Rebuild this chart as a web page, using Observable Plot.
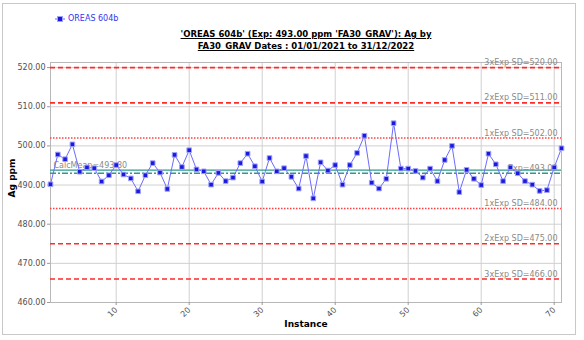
<!DOCTYPE html>
<html><head><meta charset="utf-8">
<script src="https://cdn.jsdelivr.net/npm/d3@7"></script>
<script src="https://cdn.jsdelivr.net/npm/@observablehq/plot@0.6"></script>
<style>
body{margin:0;background:#fff;}
#wrap{position:relative;width:584px;height:340px;overflow:hidden;font-family:"DejaVu Sans",sans-serif;}
#border{position:absolute;left:2px;top:3px;width:574px;height:332px;border:1px solid #c8c8c8;box-sizing:border-box;}
#title{position:absolute;left:0;width:612px;top:28px;text-align:center;font-weight:bold;font-size:8.5px;text-decoration:underline;line-height:12px;color:#000;}
#legend{position:absolute;left:55px;top:14px;font-size:8px;color:#3434f0;display:flex;align-items:center;}
#ylabel{position:absolute;left:12px;top:178px;transform:translate(-50%,-50%) rotate(-90deg);font-weight:bold;font-size:9px;color:#000;white-space:nowrap;}
#chart{position:absolute;left:0;top:50px;}
</style></head>
<body>
<div id="wrap">
<div id="border"></div>
<div id="legend"><svg width="10" height="8" style="margin-right:3px"><line x1="0" y1="4" x2="10" y2="4" stroke="#6b6bff" stroke-width="1"/><rect x="2.5" y="1.5" width="5" height="5" fill="#1a1adc" stroke="#a0a0ff" stroke-width="1"/></svg><span id="legtext"></span></div>
<div id="title"></div>
<div id="chart"></div>
<div id="ylabel"></div>
</div>
<script>
const seriesName = "OREAS 604b";
const titleLines = ["'OREAS 604b' (Exp: 493.00 ppm 'FA30_GRAV'): Ag by", "FA30_GRAV Dates : 01/01/2021 to 31/12/2022"];
const yLabel = "Ag ppm";
const xLabel = "Instance";
const agValues = [490.2,497.8,496.6,500.4,493.4,494.5,494.3,490.9,492.5,495.1,
  492.7,491.7,488.4,492.5,495.6,493.2,489.0,497.7,494.6,498.9,
  494.0,493.5,490.1,493.1,491.0,491.9,495.6,498.0,494.8,490.9,
  496.9,493.5,494.3,492.1,489.1,497.4,486.6,495.8,493.7,495.1,
  490.1,495.1,498.2,502.6,490.6,489.1,491.6,505.8,494.2,494.2,
  493.6,491.9,494.2,491.0,496.4,500.0,488.2,493.9,491.6,490.0,
  498.0,495.3,491.0,494.5,493.0,491.0,490.1,488.5,488.7,494.5,499.4];
const limitNames = ["3xExp SD","2xExp SD","1xExp SD","1xExp SD","2xExp SD","3xExp SD"];
const limitValues = [520, 511, 502, 484, 475, 466];
const limitStyle = ["dash","dash","dot","dot","dash","dash"];
const expValue = 493.00;
const calcMean = 493.80;
const yTicks = [460,470,480,490,500,510,520];
const xTicks = [10,20,30,40,50,60,70];

document.getElementById("legtext").textContent = seriesName;
document.getElementById("ylabel").textContent = yLabel;
document.getElementById("title").innerHTML = titleLines.map(t=>`<div>${t}</div>`).join("");

const data = agValues.map((v,i)=>({instance:i+1, value:v}));
const limits = limitValues.map((v,i)=>({name:limitNames[i], value:v, style:limitStyle[i]}));
const dashed = limits.filter(d=>d.style==="dash");
const dotted = limits.filter(d=>d.style==="dot");

const chart = Plot.plot({
  width:584, height:290,
  marginLeft:50, marginRight:23, marginTop:12, marginBottom:38,
  style:{fontFamily:'"DejaVu Sans",sans-serif', fontSize:"8px", background:"transparent", color:"#444"},
  x:{domain:[1,71], axis:null},
  y:{domain:[460,521.3], axis:null},
  marks:[
    Plot.gridX(xTicks,{stroke:"#d0d0d0", strokeOpacity:1}),
    Plot.gridY(yTicks,{stroke:"#d0d0d0", strokeOpacity:1}),
    Plot.frame({stroke:"#b8b8b8"}),
    Plot.axisY(yTicks,{label:null, tickSize:3, tickFormat:d=>d.toFixed(2), stroke:"#999", fill:"#505050", tickPadding:2}),
    Plot.axisX(xTicks,{label:null, tickSize:3, tickRotate:-45, stroke:"#999", fill:"#505050", tickPadding:3}),
    Plot.ruleY(dashed,{y:"value", stroke:"#ff2a2a", strokeWidth:1.6, strokeDasharray:"5,3"}),
    Plot.ruleY(dotted,{y:"value", stroke:"#ff4040", strokeWidth:1.6, strokeDasharray:"1.5,1.5"}),
    Plot.ruleY([calcMean],{stroke:"#2f9a8c", strokeWidth:1.2}),
    Plot.ruleY([expValue],{stroke:"#2f9a8c", strokeWidth:1.6, strokeDasharray:"6,2,2,2"}),
    Plot.text(limits,{y:"value", frameAnchor:"right", textAnchor:"end", dx:-4, dy:-5, text:d=>`${d.name}=${d.value.toFixed(2)}`, fill:"#8a8a8a"}),
    Plot.text([expValue],{y:d=>d, frameAnchor:"right", textAnchor:"end", dx:-4, dy:-5, text:d=>`Exp=${d.toFixed(2)}`, fill:"#8a8a8a"}),
    Plot.text([calcMean],{y:d=>d, frameAnchor:"left", textAnchor:"start", dx:3, dy:-5, text:d=>`CalcMean=${d.toFixed(2)}`, fill:"#8a8a8a"}),
    Plot.text([xLabel],{frameAnchor:"bottom", dy:24, fontWeight:"bold", fill:"#000", fontSize:9}),
    Plot.line(data,{x:"instance", y:"value", stroke:"#6b6bff", strokeWidth:1}),
    Plot.dot(data,{x:"instance", y:"value", symbol:"square", r:2.6, fill:"#1a1adc", stroke:"#a0a0ff", strokeWidth:1})
  ]
});
document.getElementById("chart").appendChild(chart);
</script>
</body></html>
